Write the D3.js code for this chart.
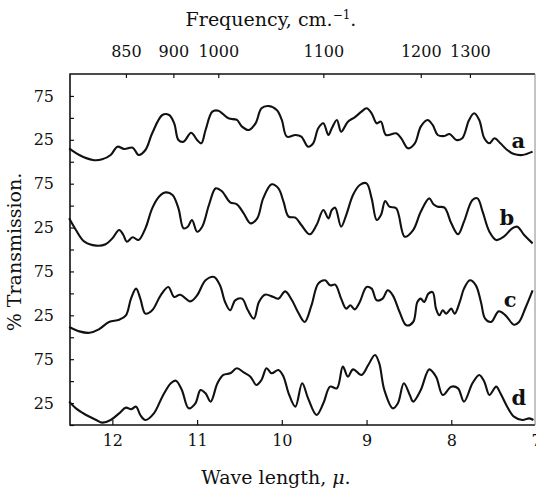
<!DOCTYPE html>
<html>
<head>
<meta charset="utf-8">
<script src="https://cdn.jsdelivr.net/npm/d3@7"></script>
<style>
  body { margin: 0; background: #fff; }
  svg { display: block; }
  text { font-family: "DejaVu Serif", "Liberation Serif", serif; fill: #111; }
  .tick line { stroke: #111; stroke-width: 1.2; }
</style>
</head>
<body>
<svg id="chart" width="536" height="490"></svg>
<script>
// wave length (micron), % transmission
const traceA = [
  [12.51,15.3],[12.39,7.7],[12.23,2.0],[12.12,2.8],[12.02,7.7],[11.94,17.2],[11.86,14.5],
  [11.76,16.0],[11.69,7.7],[11.61,13.4],[11.53,32.4],[11.41,53.3],[11.33,53.3],[11.27,43.8],
  [11.22,24.8],[11.16,22.9],[11.07,33.1],[11.00,24.8],[10.95,21.0],[10.90,36.2],[10.82,57.1],
  [10.75,58.2],[10.63,49.5],[10.53,47.6],[10.47,40.0],[10.39,36.2],[10.31,43.8],[10.24,60.9],
  [10.16,63.5],[10.06,59.0],[10.00,47.6],[9.94,28.6],[9.84,30.5],[9.77,28.6],[9.69,17.2],
  [9.63,21.0],[9.57,38.1],[9.51,43.8],[9.45,30.5],[9.41,38.1],[9.35,47.6],[9.30,34.3],
  [9.22,45.7],[9.14,50.6],[9.06,57.1],[9.00,60.9],[8.94,55.2],[8.88,43.8],[8.83,45.7],
  [8.77,30.5],[8.65,32.4],[8.59,26.7],[8.51,15.3],[8.43,21.0],[8.36,40.0],[8.28,47.6],
  [8.22,41.9],[8.16,30.5],[8.08,29.3],[8.02,31.6],[7.94,24.8],[7.87,26.7],[7.79,47.6],
  [7.73,55.2],[7.67,47.6],[7.61,26.7],[7.55,21.0],[7.49,26.7],[7.42,21.0],[7.34,13.4],
  [7.26,8.8],[7.16,7.7],[7.04,11.5]
];
const traceB = [
  [12.51,35.5],[12.43,22.2],[12.33,8.9],[12.19,4.4],[12.08,5.9],[12.00,12.7],[11.92,22.2],
  [11.87,16.5],[11.83,8.9],[11.76,13.9],[11.69,10.8],[11.61,24.1],[11.53,46.9],[11.45,60.2],
  [11.37,65.1],[11.29,62.1],[11.22,46.9],[11.16,24.1],[11.11,26.0],[11.06,33.6],[11.00,20.3],
  [10.94,26.0],[10.86,50.7],[10.78,69.7],[10.71,66.7],[10.61,53.8],[10.53,51.5],[10.45,41.2],
  [10.37,29.8],[10.29,35.5],[10.22,58.3],[10.12,74.3],[10.04,69.7],[9.98,54.5],[9.92,37.4],
  [9.84,36.3],[9.77,27.9],[9.67,17.3],[9.59,27.9],[9.51,45.0],[9.45,35.5],[9.41,45.0],
  [9.37,47.7],[9.30,26.0],[9.24,39.3],[9.16,62.1],[9.08,73.5],[9.00,75.4],[8.94,58.3],
  [8.88,33.6],[8.83,39.3],[8.78,55.3],[8.73,48.8],[8.65,46.9],[8.55,14.6],[8.45,22.2],
  [8.36,43.1],[8.26,58.3],[8.21,51.5],[8.16,48.8],[8.08,47.7],[8.00,29.8],[7.92,17.3],
  [7.85,31.7],[7.75,56.4],[7.69,58.3],[7.63,43.1],[7.55,20.3],[7.47,10.8],[7.38,14.6],
  [7.28,24.1],[7.22,26.0],[7.14,16.5],[7.04,7.0]
];
const traceC = [
  [12.51,11.7],[12.39,6.7],[12.27,5.1],[12.16,9.0],[12.04,17.4],[11.92,20.0],[11.84,25.0],
  [11.78,44.0],[11.72,55.4],[11.67,44.0],[11.61,26.9],[11.53,30.7],[11.43,47.8],[11.34,57.3],
  [11.27,45.9],[11.20,48.5],[11.08,40.9],[11.00,47.8],[10.90,64.9],[10.80,68.7],[10.73,59.2],
  [10.67,40.2],[10.61,30.7],[10.55,42.1],[10.47,44.0],[10.40,30.7],[10.33,21.2],[10.27,40.2],
  [10.20,48.5],[10.10,45.9],[10.04,44.0],[9.96,52.3],[9.88,42.1],[9.81,28.8],[9.73,17.4],
  [9.65,36.4],[9.57,61.1],[9.49,64.9],[9.43,59.2],[9.37,59.9],[9.30,44.0],[9.24,32.6],
  [9.19,36.4],[9.14,31.8],[9.08,40.2],[9.00,57.3],[8.94,55.4],[8.88,42.1],[8.81,44.0],
  [8.75,53.5],[8.69,47.8],[8.61,28.8],[8.53,13.6],[8.45,17.4],[8.40,40.2],[8.36,44.0],
  [8.32,40.2],[8.27,49.7],[8.22,51.5],[8.18,32.6],[8.14,25.0],[8.10,30.7],[8.06,26.9],
  [8.00,32.6],[7.96,26.9],[7.90,40.2],[7.85,55.4],[7.78,64.9],[7.71,59.2],[7.65,40.2],
  [7.60,21.2],[7.53,17.4],[7.44,29.5],[7.36,25.0],[7.26,14.3],[7.20,17.4],[7.12,34.5],
  [7.04,53.5]
];
const traceD = [
  [12.51,26.6],[12.43,19.0],[12.31,11.4],[12.19,5.7],[12.12,2.7],[12.02,5.7],[11.92,13.3],
  [11.84,19.8],[11.78,17.9],[11.72,20.9],[11.67,11.4],[11.61,5.7],[11.51,13.3],[11.41,32.3],
  [11.31,47.5],[11.25,50.5],[11.18,39.9],[11.10,19.0],[11.02,24.7],[10.96,39.9],[10.90,36.1],
  [10.84,26.6],[10.76,47.5],[10.69,57.0],[10.61,58.9],[10.53,64.6],[10.45,60.0],[10.37,55.1],
  [10.30,45.6],[10.24,51.3],[10.18,64.6],[10.12,58.9],[10.04,62.7],[9.98,55.1],[9.92,36.1],
  [9.84,20.9],[9.76,47.5],[9.69,30.4],[9.59,11.4],[9.51,24.7],[9.43,43.7],[9.35,41.8],
  [9.28,66.5],[9.22,55.1],[9.16,63.4],[9.06,57.0],[8.98,68.4],[8.90,79.8],[8.85,70.3],
  [8.79,39.9],[8.69,19.0],[8.63,24.7],[8.56,47.5],[8.49,34.2],[8.45,26.6],[8.36,39.9],
  [8.26,63.4],[8.18,55.1],[8.10,34.2],[8.00,43.7],[7.92,41.8],[7.85,26.6],[7.75,47.5],
  [7.67,57.0],[7.61,49.4],[7.55,34.2],[7.47,43.7],[7.42,36.1],[7.34,20.9],[7.26,9.5],
  [7.16,5.7],[7.08,7.6],[7.03,5.7]
];
const traces = [traceA, traceB, traceC, traceD];
const traceNames = ["a", "b", "c", "d"];

const waveTicks = [12, 11, 10, 9, 8, 7];
const transTicks = [0, 25, 50, 75];
const transLabels = [25, 75];
// frequency labels on the top edge and the wave length each one is printed over
const freqTicks = [850, 900, 1000, 1100, 1200, 1300];
const freqTickPos = [11.84, 11.28, 10.75, 9.51, 8.36, 7.78];

const svg = d3.select("#chart");
const plotL = 70, plotR = 535, plotT = 74, plotB = 425;
const panelH = (plotB - plotT) / 4;

const x = d3.scaleLinear().domain([12.5, 7]).range([plotL, 536]);

function panelScale(i) {
  return d3.scaleLinear().domain([0, 100])
    .range([plotT + (i + 1) * panelH, plotT + i * panelH]);
}

// left axis, one per trace
traces.forEach(function(t, i) {
  const y = panelScale(i);
  svg.append("g")
    .attr("transform", `translate(${plotL},0)`)
    .call(d3.axisLeft(y).tickValues(transTicks).tickSize(-4).tickPadding(16)
      .tickFormat(d => transLabels.includes(d) ? d : ""))
    .call(g => g.select(".domain").remove())
    .selectAll("text")
    .style("font-size", "16px");
});

// bottom axis, wave length
svg.append("g")
  .attr("transform", `translate(0,${plotB})`)
  .call(d3.axisBottom(x).tickValues(waveTicks).tickSize(-5).tickPadding(10)
    .tickFormat(d3.format("d")))
  .call(g => g.select(".domain").remove())
  .selectAll("text")
  .style("font-size", "16px");

// top axis, frequency
svg.append("g")
  .attr("transform", `translate(0,${plotT})`)
  .call(d3.axisTop(x).tickValues(freqTickPos).tickSize(-4).tickPadding(17)
    .tickFormat((d, i) => freqTicks[i]))
  .call(g => g.select(".domain").remove())
  .selectAll("text")
  .style("font-size", "16px");

// frame
svg.append("path")
  .attr("d", `M${plotR},${plotT}H${plotL}V${plotB}H${plotR}`)
  .attr("fill", "none")
  .attr("stroke", "#111")
  .attr("stroke-width", 1.6);
svg.append("line")
  .attr("x1", plotR).attr("x2", plotR)
  .attr("y1", plotT).attr("y2", plotB)
  .attr("stroke", "#888")
  .attr("stroke-width", 1);

// the spectra
traces.forEach(function(t, i) {
  const y = panelScale(i);
  const line = d3.line()
    .x(d => x(d[0]))
    .y(d => y(d[1]))
    .curve(d3.curveCatmullRom.alpha(0.5));
  svg.append("path")
    .datum(t)
    .attr("d", line)
    .attr("fill", "none")
    .attr("stroke", "#111")
    .attr("stroke-width", 2.1)
    .attr("stroke-linejoin", "round");
});

// curve letters
const letterAt = [[7.29, 15.7], [7.43, 27.9], [7.38, 34.5], [7.29, 22.8]];
traceNames.forEach(function(n, i) {
  const y = panelScale(i);
  svg.append("text")
    .attr("x", x(letterAt[i][0]))
    .attr("y", y(letterAt[i][1]))
    .style("font-size", "21px")
    .style("font-weight", "bold")
    .text(n);
});

// titles
const freqTitle = svg.append("text")
  .attr("x", 271).attr("y", 26)
  .attr("text-anchor", "middle")
  .style("font-size", "19px");
freqTitle.append("tspan").text("Frequency, cm.");
freqTitle.append("tspan").attr("dy", -7).style("font-size", "12px").text("\u22121");
freqTitle.append("tspan").attr("dy", 7).text(".");

const waveTitle = svg.append("text")
  .attr("x", 276).attr("y", 484)
  .attr("text-anchor", "middle")
  .style("font-size", "19px");
waveTitle.append("tspan").text("Wave length, ");
waveTitle.append("tspan").style("font-style", "italic").text("\u03bc");
waveTitle.append("tspan").text(".");

svg.append("text")
  .attr("transform", "translate(21,252) rotate(-90)")
  .attr("text-anchor", "middle")
  .style("font-size", "19px")
  .text("% Transmission.");
</script>
</body>
</html>
